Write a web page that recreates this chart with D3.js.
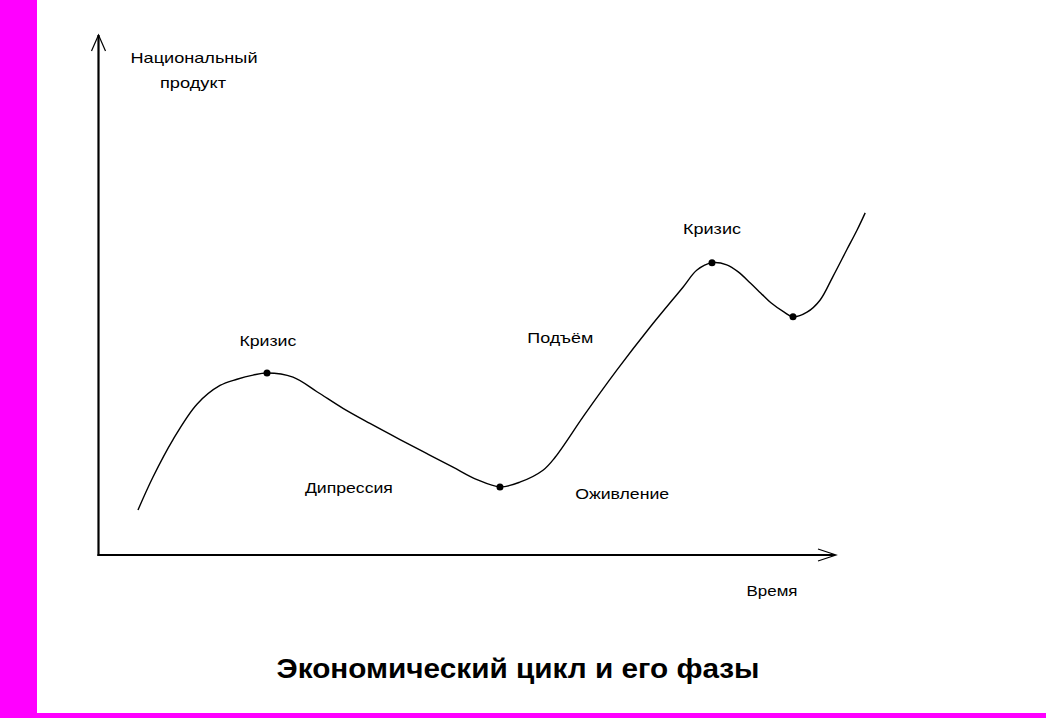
<!DOCTYPE html>
<html><head><meta charset="utf-8">
<script src="https://cdn.jsdelivr.net/npm/d3@7"></script>
<style>html,body{margin:0;padding:0;background:#fff;}svg{display:block;}</style>
</head><body>
<script>
// Data (time units, national product units)
const timeVals    = [5.36, 7.40, 10.12, 13.37, 16.50, 18.81, 20.98, 22.88, 26.41, 29.66, 33.20, 36.86, 40.94, 44.60, 48.13, 51.39, 54.51, 57.2, 60.35, 62.0, 66.0, 70.40, 74.88, 79.36, 81.26, 83.30, 85.3, 86.9, 88.5, 89.9, 91.3, 93.1, 94.3, 96.2, 97.96, 99.7, 101.6, 103.0, 104.1];
const productVals = [8.65, 15.0, 22.2, 29.0, 32.6, 33.8, 34.6, 35.0, 34.2, 31.4, 28.2, 25.3, 22.2, 19.5, 16.9, 14.5, 13.1, 14.0, 16.3, 18.8, 27.0, 35.6, 43.8, 51.5, 54.8, 56.2, 55.8, 54.4, 52.3, 50.4, 48.5, 46.7, 45.8, 46.7, 49.0, 53.5, 58.7, 62.5, 65.8];
const keyTimes    = [22.88, 54.51, 83.30, 94.3];
const keyProducts = [35.0, 13.1, 56.2, 45.8];
const phaseLabels = ["Кризис", "Дипрессия", "Подъём", "Оживление", "Кризис"];
const phaseX      = [23.0, 34.0, 62.7, 71.1, 83.3];
const phaseY      = [40.2, 11.9, 40.8, 10.8, 61.7];
const phaseW      = [57, 88, 66, 94, 58];
const yAxisTitle  = ["Национальный", "продукт"];
const xAxisTitle  = "Время";
const chartTitle  = "Экономический цикл и его фазы";

const W = 1046, H = 718;
const svg = d3.select("body").append("svg").attr("width", W).attr("height", H);

// frame
svg.append("rect").attr("x",0).attr("y",0).attr("width",37).attr("height",H).attr("fill","#ff00ff");
svg.append("rect").attr("x",0).attr("y",713).attr("width",W).attr("height",5).attr("fill","#ff00ff");

const x = d3.scaleLinear().domain([0,100]).range([98.5, 835]);
const y = d3.scaleLinear().domain([0,100]).range([555, 35]);

// axes
svg.append("line").attr("x1",x(0)).attr("x2",x(0)).attr("y1",y(0)+1).attr("y2",y(100))
  .attr("stroke","#000").attr("stroke-width",2.2);
svg.append("line").attr("x1",x(0)-1).attr("x2",x(100)).attr("y1",y(0)).attr("y2",y(0))
  .attr("stroke","#000").attr("stroke-width",2.2);
// arrowheads
svg.append("path").attr("d",`M${x(0)-7},${y(100)+16}L${x(0)},${y(100)}L${x(0)+7},${y(100)+16}`)
  .attr("fill","none").attr("stroke","#000").attr("stroke-width",1.2);
svg.append("path").attr("d",`M${x(100)-17},${y(0)-6}L${x(100)+1},${y(0)}L${x(100)-17},${y(0)+6}`)
  .attr("fill","none").attr("stroke","#000").attr("stroke-width",1.2);

// curve
const line = d3.line().x((d,i)=>x(timeVals[i])).y((d,i)=>y(productVals[i])).curve(d3.curveCatmullRom.alpha(0.5));
svg.append("path").datum(timeVals).attr("d",line).attr("fill","none").attr("stroke","#000").attr("stroke-width",1.4);

svg.selectAll("circle.key").data(keyTimes).enter().append("circle")
  .attr("cx",(d)=>x(d)).attr("cy",(d,i)=>y(keyProducts[i])).attr("r",3.5).attr("fill","#000");

const font = "'Liberation Sans', Arial, sans-serif";
// phase labels
svg.selectAll("text.phase").data(phaseLabels).enter().append("text")
  .attr("x",(d,i)=>x(phaseX[i])).attr("y",(d,i)=>y(phaseY[i]))
  .attr("text-anchor","middle").attr("font-family",font).attr("font-size",15)
  .attr("textLength",(d,i)=>phaseW[i]).attr("lengthAdjust","spacingAndGlyphs")
  .text(d=>d);

// y axis title
svg.append("text").attr("x",194).attr("y",63).attr("text-anchor","middle").attr("font-family",font)
  .attr("font-size",15).attr("textLength",127).attr("lengthAdjust","spacingAndGlyphs").text(yAxisTitle[0]);
svg.append("text").attr("x",193).attr("y",88).attr("text-anchor","middle").attr("font-family",font)
  .attr("font-size",15).attr("textLength",66).attr("lengthAdjust","spacingAndGlyphs").text(yAxisTitle[1]);
// x axis title
svg.append("text").attr("x",772).attr("y",596).attr("text-anchor","middle").attr("font-family",font)
  .attr("font-size",15).attr("textLength",51).attr("lengthAdjust","spacingAndGlyphs").text(xAxisTitle);
// title
svg.append("text").attr("x",518).attr("y",678).attr("text-anchor","middle").attr("font-family",font)
  .attr("font-size",27).attr("font-weight","bold").attr("textLength",483).attr("lengthAdjust","spacingAndGlyphs").text(chartTitle);
</script>
</body></html>
